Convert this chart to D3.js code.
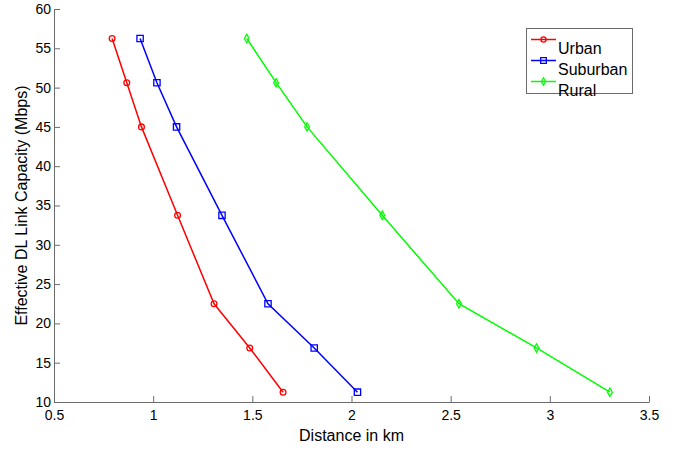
<!DOCTYPE html>
<html>
<head>
<meta charset="UTF-8">
<title>Effective DL Link Capacity vs Distance</title>
<script src="https://cdn.jsdelivr.net/npm/d3@7/dist/d3.min.js"></script>
<style>
    body { margin: 0; background: #fff; }
    svg { font-family: "Liberation Sans", Arial, sans-serif; }
    .axis path, .axis line { stroke: #6b6b6b; }
    .axis text { fill: #000; font-size: 14px; }
</style>
</head>
<body>
<div id="chart"></div>
<script>
// capacity values shared by all three series (Mbps)
const capacity = [56.25, 50.625, 45, 33.75, 22.5, 16.875, 11.25];

// distance in km
const urbanKm    = [0.793, 0.867, 0.941, 1.123, 1.307, 1.487, 1.655];
const suburbanKm = [0.934, 1.019, 1.118, 1.347, 1.579, 1.812, 2.030];
const ruralKm    = [1.472, 1.620, 1.776, 2.155, 2.542, 2.933, 3.303];

const seriesNames = ["Urban", "Suburban", "Rural"];
const xTicks = [0.5, 1, 1.5, 2, 2.5, 3, 3.5];
const yTicks = [10, 15, 20, 25, 30, 35, 40, 45, 50, 55, 60];

const series = [
    { name: seriesNames[0], km: urbanKm,    color: "#ff0000", symbol: d3.symbolCircle,  size: 26 },
    { name: seriesNames[1], km: suburbanKm, color: "#0000ff", symbol: d3.symbolSquare,  size: 40 },
    { name: seriesNames[2], km: ruralKm,    color: "#00ff00", symbol: d3.symbolDiamond, size: 20 }
];

const width = 682, height = 452;
const margin = { top: 9, right: 33, bottom: 50, left: 54 };

const svg = d3.select("#chart").append("svg")
    .attr("width", width)
    .attr("height", height);

const x = d3.scaleLinear().domain([0.5, 3.5]).range([margin.left, width - margin.right]);
const y = d3.scaleLinear().domain([10, 60]).range([height - margin.bottom, margin.top]);

svg.append("g")
    .attr("class", "axis")
    .attr("transform", `translate(0,${height - margin.bottom})`)
    .call(d3.axisBottom(x).tickValues(xTicks).tickFormat(d3.format("")).tickSizeInner(-6).tickSizeOuter(0).tickPadding(8));

svg.append("g")
    .attr("class", "axis")
    .attr("transform", `translate(${margin.left},0)`)
    .call(d3.axisLeft(y).tickValues(yTicks).tickSizeInner(-6).tickSizeOuter(0).tickPadding(3));

// axis titles
svg.append("text")
    .attr("x", (x.range()[0] + x.range()[1]) / 2)
    .attr("y", 441)
    .attr("text-anchor", "middle")
    .style("font-size", "16px")
    .text("Distance in km");

svg.append("text")
    .attr("transform", `translate(27,${(y.range()[0] + y.range()[1]) / 2}) rotate(-90)`)
    .attr("text-anchor", "middle")
    .style("font-size", "16px")
    .text("Effective DL Link Capacity (Mbps)");

const line = d3.line()
    .x(d => x(d[0]))
    .y(d => y(d[1]));

series.forEach(s => {
    const pts = s.km.map((k, i) => [k, capacity[i]]);
    const g = svg.append("g");
    g.append("path")
        .datum(pts)
        .attr("d", line)
        .attr("fill", "none")
        .attr("stroke", s.color)
        .attr("stroke-width", 1.5);
    g.selectAll("path.marker")
        .data(pts)
        .join("path")
        .attr("class", "marker")
        .attr("transform", d => `translate(${x(d[0])},${y(d[1])})`)
        .attr("d", d3.symbol().type(s.symbol).size(s.size))
        .attr("fill", "none")
        .attr("stroke", s.color)
        .attr("stroke-width", 1.3);
});

// legend
const legend = svg.append("g");
legend.append("rect")
    .attr("x", 526.5).attr("y", 28.5)
    .attr("width", 106).attr("height", 65)
    .attr("fill", "#fff")
    .attr("stroke", "#6b6b6b");

series.forEach((s, i) => {
    const ly = 39.5 + i * 21;
    legend.append("line")
        .attr("x1", 531).attr("x2", 556)
        .attr("y1", ly).attr("y2", ly)
        .attr("stroke", s.color)
        .attr("stroke-width", 1.5);
    legend.append("path")
        .attr("transform", `translate(543.5,${ly})`)
        .attr("d", d3.symbol().type(s.symbol).size(s.size * 0.8))
        .attr("fill", "none")
        .attr("stroke", s.color)
        .attr("stroke-width", 1.3);
    legend.append("text")
        .attr("x", 558)
        .attr("y", ly + 14)
        .style("font-size", "16px")
        .text(s.name);
});
</script>
</body>
</html>
